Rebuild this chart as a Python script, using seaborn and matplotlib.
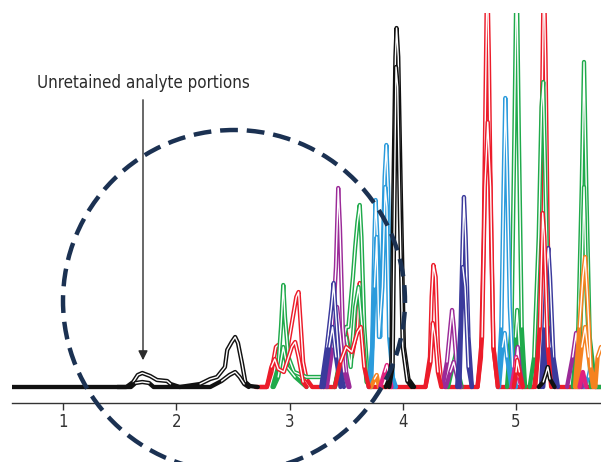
import numpy as np
import pandas as pd
import matplotlib
matplotlib.use("Agg")
import matplotlib.pyplot as plt
from matplotlib.patches import Ellipse, FancyArrowPatch
import seaborn as sns

sns.set_theme(style="white")
plt.rcParams['font.family'] = ['DejaVu Sans']
plt.rcParams['font.stretch'] = 'condensed'

# ---- data: retention time (min) vs. detector response (arbitrary units); None separates segments ----
red_a_x = [2.70, 2.80, 2.84, 2.88, 2.90, 2.93, 2.97, 3.03, 3.06, 3.08, 3.10, 3.12, 3.15, 3.20, 3.40, 3.44, 3.47,
           3.49, 3.52, 3.55, 3.60, 3.62, 3.64, 3.67, 3.70, 4.20, 4.24, 4.255, 4.27, 4.29, 4.31, 4.34, 4.37, 4.66,
           4.69, 4.715, 4.735, 4.745, 4.76, 4.78, 4.80, 4.84, 5.16, 5.19, 5.215, 5.235, 5.245, 5.26, 5.28, 5.30,
           5.34, 5.75]
red_a_y = [0, 0, 15, 40, 42, 30, 30, 70, 90, 95, 60, 25, 8, 0, 0, 20, 50, 60, 40, 30, 60, 104, 80, 20, 0, 0, 30,
           90, 122, 110, 40, 5, 0, 0, 30, 150, 330, 420, 330, 150, 40, 0, 0, 30, 150, 330, 420, 330, 150, 40, 0, 0]

red_b_x = [2.74, 2.80, 2.84, 2.87, 2.90, 2.95, 3.02, 3.05, 3.08, 3.12, 3.15, None,
           3.40, 3.45, 3.50, 3.55, 3.60, 3.63, 3.66, 3.70, None,
           4.20, 4.245, 4.265, 4.285, 4.31, 4.34, None,
           4.66, 4.70, 4.725, 4.75, 4.775, 4.80, 4.84, None,
           4.98, 5.00, 5.01, 5.03, 5.06, None,
           5.17, 5.21, 5.235, 5.25, 5.28, 5.31]
red_b_y = [0, 0, 20, 28, 18, 15, 40, 45, 30, 5, 0, None,
           0, 25, 40, 35, 55, 60, 20, 0, None,
           0, 25, 64, 50, 15, 0, None,
           0, 50, 200, 265, 200, 40, 0, None,
           0, 15, 27, 15, 0, None,
           0, 60, 174, 150, 40, 0]

green_a_x = [2.85, 2.90, 2.925, 2.945, 2.96, 2.99, 3.04, 3.15, 3.30, 3.33, None,
             3.40, 3.45, 3.50, 3.52, 3.56, 3.58, 3.60, 3.62, 3.635, 3.66, 3.69, 3.72, None,
             4.40, 4.44, 4.47, 4.49, 4.52, None,
             4.92, 4.96, 4.985, 5.005, 5.025, 5.05, 5.08, None,
             5.12, 5.16, 5.20, 5.225, 5.24, 5.26, 5.29, 5.32, None,
             5.50, 5.55, 5.58, 5.60, 5.62, 5.65, 5.70, 5.75]
green_a_y = [0, 20, 60, 102, 70, 30, 15, 10, 10, 0, None,
             0, 30, 60, 60, 110, 140, 165, 182, 150, 60, 10, 0, None,
             0, 20, 34, 15, 0, None,
             0, 60, 250, 420, 250, 60, 0, None,
             0, 30, 150, 280, 305, 200, 40, 0, None,
             0, 60, 200, 325, 200, 50, 0, 0]

green_b_x = [2.86, 2.90, 2.945, 2.98, 3.05, 3.15, None,
             3.40, 3.44, 3.47, 3.50, 3.54, 3.58, 3.61, 3.64, 3.68, 3.72, None,
             4.97, 4.995, 5.01, 5.03, 5.06, None,
             5.55, 5.58, 5.60, 5.62, 5.66]
green_b_y = [0, 10, 40, 20, 10, 0, None,
             0, 15, 40, 50, 20, 80, 100, 60, 5, 0, None,
             0, 50, 77, 40, 0, None,
             0, 100, 200, 100, 0]

blue_a_x = [3.70, 3.73, 3.75, 3.76, 3.78, 3.80, 3.82, 3.84, 3.855, 3.87, 3.89, 3.91, 3.94, None,
            4.84, 4.87, 4.89, 4.905, 4.92, 4.945, 4.97, 5.00, None,
            5.60, 5.64, 5.66, 5.70]
blue_a_y = [0, 40, 150, 187, 140, 50, 120, 210, 242, 200, 60, 10, 0, None,
            0, 60, 200, 289, 220, 80, 20, 0, None,
            0, 10, 20, 0]

blue_b_x = [3.72, 3.75, 3.77, 3.79, 3.82, 3.845, 3.86, 3.88, 3.92, None,
            4.85, 4.88, 4.90, 4.92, 4.96]
blue_b_y = [0, 100, 150, 50, 100, 200, 180, 50, 0, None,
            0, 40, 54, 30, 0]

purple_a_x = [3.30, 3.36, 3.39, 3.41, 3.43, 3.445, 3.47, 3.50, 3.53, None,
              4.35, 4.39, 4.42, 4.435, 4.45, 4.48, 4.51, None,
              4.98, 5.00, 5.015, 5.03, 5.06, None,
              5.45, 5.50, 5.53, 5.55, 5.58]
purple_a_y = [0, 30, 80, 120, 199, 160, 60, 15, 0, None,
              0, 25, 60, 77, 60, 15, 0, None,
              0, 25, 40, 20, 0, None,
              0, 30, 54, 20, 0]

purple_b_x = [3.33, 3.38, 3.42, 3.44, 3.48, 3.52, None,
              4.38, 4.42, 4.45, 4.48, 4.51]
purple_b_y = [0, 40, 80, 60, 15, 0, None,
              0, 15, 25, 10, 0]

indigo_a_x = [3.28, 3.33, 3.37, 3.39, 3.41, 3.44, 3.48, None,
              4.48, 4.51, 4.53, 4.54, 4.555, 4.58, 4.61, None,
              5.22, 5.25, 5.27, 5.285, 5.30, 5.33, 5.37]
indigo_a_y = [0, 40, 80, 104, 70, 20, 0, None,
              0, 60, 150, 190, 150, 50, 0, None,
              0, 60, 120, 139, 110, 30, 0]

indigo_b_x = [3.30, 3.35, 3.38, 3.41, 3.45, None,
              4.50, 4.53, 4.55, 4.58, 4.61, None,
              5.24, 5.28, 5.30, 5.34]
indigo_b_y = [0, 40, 60, 30, 0, None,
              0, 120, 100, 20, 0, None,
              0, 60, 40, 0]

orange_x = [3.72, 3.75, 3.77, 3.79, None,
            5.52, 5.56, 5.59, 5.61, 5.63, 5.66, 5.70, 5.72, 5.75, None,
            5.54, 5.58, 5.61, 5.64, 5.68]
orange_y = [0, 8, 12, 0, None,
            0, 60, 110, 130, 90, 20, 0, 30, 40, None,
            0, 40, 60, 30, 0]

pink_x = [3.80, 3.84, 3.86, 3.88, 3.90, None,
          4.96, 4.99, 5.00, 5.02, 5.05, None,
          5.56, 5.59, 5.62]
pink_y = [0, 15, 22, 10, 0, None,
          0, 20, 30, 10, 0, None,
          0, 15, 0]

black_a_x = [0.55, 1.56, 1.62, 1.66, 1.70, 1.77, 1.83, 1.92, 1.95, 2.03, 2.21, 2.30, 2.36, 2.43, 2.45, 2.49,
             2.52, 2.545, 2.58, 2.61, 2.65, 2.72, None,
             3.85, 3.88, 3.90, 3.915, 3.935, 3.945, 3.96, 3.985, 4.01, 4.05, 4.10]
black_a_y = [0, 0, 5, 12, 14, 11, 7, 6, 3, 0, 3, 8, 10, 20, 37, 45, 50, 44, 24, 5, 1, 0, None,
             0, 8, 25, 180, 330, 359, 330, 180, 40, 8, 0]

black_b_x = [1.48, 1.60, 1.64, 1.70, 1.76, 1.80, 2.30, 2.40, 2.47, 2.52, 2.56, 2.60, 2.64, None,
             3.88, 3.91, 3.925, 3.94, 3.955, 3.975, 4.00, 4.04, 4.08, None,
             5.20, 5.24, 5.265, 5.28, 5.30, 5.34]
black_b_y = [0, 0, 4, 5, 4, 0, 0, 6, 12, 15, 10, 3, 0, None,
             0, 20, 170, 320, 300, 170, 40, 6, 0, None,
             0, 5, 14, 20, 8, 0]

tick_values = [1, 2, 3, 4, 5]
annotation_text = "Unretained analyte portions"

traces = [
    (red_a_x, red_a_y, "#ec1c2a"),
    (green_a_x, green_a_y, "#1faa4b"),
    (green_b_x, green_b_y, "#1faa4b"),
    (blue_a_x, blue_a_y, "#2b9bdc"),
    (blue_b_x, blue_b_y, "#2b9bdc"),
    (purple_a_x, purple_a_y, "#9b2a98"),
    (purple_b_x, purple_b_y, "#9b2a98"),
    (indigo_a_x, indigo_a_y, "#3b3a9c"),
    (indigo_b_x, indigo_b_y, "#3b3a9c"),
    (orange_x, orange_y, "#f58220"),
    (pink_x, pink_y, "#e0217f"),
    (red_b_x, red_b_y, "#ec1c2a"),
    (black_a_x, black_a_y, "#111111"),
    (black_b_x, black_b_y, "#111111"),
]


def to_frame(xs, ys):
    rows, seg = [], 0
    for x, y in zip(xs, ys):
        if x is None:
            seg += 1
            continue
        rows.append((x, y, seg))
    return pd.DataFrame(rows, columns=["x", "y", "seg"])


fig = plt.figure(figsize=(6.01, 4.62), dpi=100)
W, H = 601, 462
ax = fig.add_axes([12 / W, (H - 403) / H, (W - 12) / W, (403 - 13) / H])

for xs, ys, col in traces:
    df = to_frame(xs, ys)
    sns.lineplot(data=df, x="x", y="y", units="seg", estimator=None, sort=False,
                 color=col, lw=3.1, ax=ax, legend=False,
                 solid_joinstyle="round", solid_capstyle="round")
    for _, g in df.groupby("seg"):
        yy = np.where(g["y"].to_numpy() > 1.5, g["y"].to_numpy(), np.nan)
        ax.plot(g["x"].to_numpy(), yy, color="white", lw=1.0, solid_joinstyle="round")

ax.set_xlim(0.55, 5.75)
ax.set_ylim(-16, 374)
ax.set_xticks(tick_values)
ax.set_xticklabels([str(t) for t in tick_values])
ax.set_yticks([])
ax.set_xlabel("")
ax.set_ylabel("")
for s in ["top", "right", "left"]:
    ax.spines[s].set_visible(False)
ax.spines["bottom"].set_color("#333333")
ax.spines["bottom"].set_linewidth(1.0)
ax.tick_params(axis="x", direction="out", length=5, width=1, color="#333333",
               labelsize=12, labelcolor="#333333", pad=2, bottom=True)
ax.set_facecolor("white")

# annotation text and arrow
fig.text(143 / W, 1 - 83 / H, annotation_text, ha="center", va="center",
         fontsize=12.2, color="#2b2b2b", fontstretch="condensed")
fig.patches.append(FancyArrowPatch(
    (143 / W, 1 - 97 / H), (143 / W, 1 - 363 / H), transform=fig.transFigure,
    arrowstyle="-|>", mutation_scale=14, lw=1.0, color="#2b2b2b", zorder=10))

# dashed circle
circ = Ellipse((234 / W, 1 - 301 / H), 342 / W, 342 / H, transform=fig.transFigure,
               fill=False, edgecolor="#1b3152", lw=3.2, linestyle=(0, (4, 2)), zorder=20)
fig.patches.append(circ)

fig.savefig("out.png", dpi=100, facecolor="white")
